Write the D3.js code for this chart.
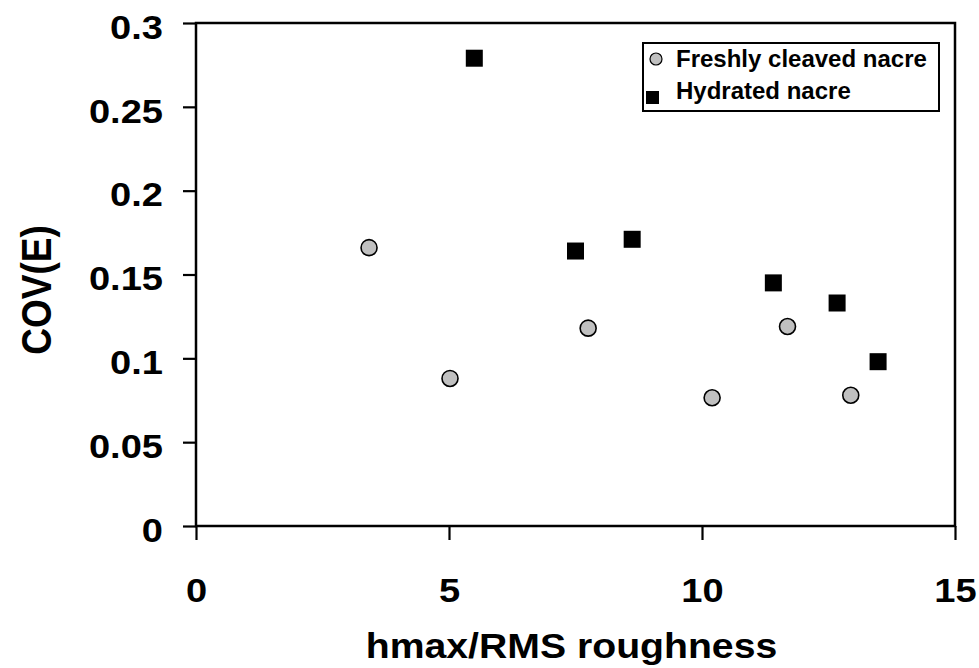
<!DOCTYPE html>
<html>
<head>
<meta charset="utf-8">
<script src="https://cdn.jsdelivr.net/npm/d3@7"></script>
<style>
  body { margin: 0; background: #fff; }
  svg { display: block; }
  text { font-family: "Liberation Sans", Arial, sans-serif; font-weight: bold; fill: #000; }
</style>
</head>
<body>
<svg></svg>
<script>
// data
let freshX = [3.42, 5.02, 7.75, 10.2, 11.69, 12.94];
let freshY = [0.166, 0.088, 0.118, 0.0765, 0.119, 0.078];
let hydX = [5.5, 7.5, 8.62, 11.41, 12.67, 13.48];
let hydY = [0.279, 0.164, 0.171, 0.145, 0.133, 0.098];

let xTicks = [0, 5, 10, 15];
let yTicks = [0, 0.05, 0.1, 0.15, 0.2, 0.25, 0.3];
let yTickLabels = ["0", "0.05", "0.1", "0.15", "0.2", "0.25", "0.3"];
let seriesNames = ["Freshly cleaved nacre", "Hydrated nacre"];

let svg = d3.select("svg").attr("width", 979).attr("height", 668);

let x = d3.scaleLinear().domain([0, 15]).range([196, 955]);
let y = d3.scaleLinear().domain([0, 0.3]).range([526, 23]);

// y axis
let yAxis = svg.append("g")
    .attr("transform", `translate(${x(0)},0)`)
    .call(d3.axisLeft(y).tickValues(yTicks).tickSize(13).tickSizeOuter(0)
        .tickFormat((d, i) => yTickLabels[i]));
yAxis.select(".domain").remove();
yAxis.selectAll("line").attr("stroke", "#000").attr("stroke-width", 2.2);
yAxis.selectAll("text")
    .attr("x", 0).attr("dy", "0.36em")
    .attr("transform", "translate(-33,3) scale(1.12,1)")
    .style("font-size", "34px");

// x axis
let xAxis = svg.append("g")
    .attr("transform", `translate(0,${y(0)})`)
    .call(d3.axisBottom(x).tickValues(xTicks).tickSize(14).tickSizeOuter(0));
xAxis.select(".domain").remove();
xAxis.selectAll("line").attr("stroke", "#000").attr("stroke-width", 2.2);
xAxis.selectAll("text")
    .attr("y", 0).attr("dy", 0)
    .attr("transform", "translate(0,76) scale(1.12,1)")
    .style("font-size", "34px");

// frame
svg.append("rect")
    .attr("x", x(0)).attr("y", y(0.3))
    .attr("width", x(15) - x(0)).attr("height", y(0) - y(0.3))
    .attr("fill", "none").attr("stroke", "#000").attr("stroke-width", 2.5);

// axis titles
svg.append("text")
    .attr("transform", `translate(${(x(0) + x(15)) / 2 - 4},658) scale(1.12,1)`)
    .attr("text-anchor", "middle")
    .style("font-size", "35px")
    .text("hmax/RMS roughness");

svg.append("text")
    .attr("transform", "translate(51,290) rotate(-90) scale(1,1.15)")
    .attr("text-anchor", "middle")
    .style("font-size", "37px")
    .text("COV(E)");

// points
let fresh = freshX.map((d, i) => ({ x: d, y: freshY[i] }));
let hyd = hydX.map((d, i) => ({ x: d, y: hydY[i] }));

svg.append("g").selectAll("rect")
    .data(hyd).enter().append("rect")
    .attr("x", (d) => x(d.x) - 8.5)
    .attr("y", (d) => y(d.y) - 8.5)
    .attr("width", 17).attr("height", 17)
    .attr("fill", "#000");

svg.append("g").selectAll("circle")
    .data(fresh).enter().append("circle")
    .attr("cx", (d) => x(d.x))
    .attr("cy", (d) => y(d.y))
    .attr("r", 8)
    .attr("fill", "#c0c0c0")
    .attr("stroke", "#000").attr("stroke-width", 1.6);

// legend
let legend = svg.append("g");
legend.append("rect")
    .attr("x", 643).attr("y", 43).attr("width", 296).attr("height", 68)
    .attr("fill", "#fff").attr("stroke", "#000").attr("stroke-width", 2);
legend.append("circle")
    .attr("cx", 656).attr("cy", 59).attr("r", 6)
    .attr("fill", "#c0c0c0").attr("stroke", "#000").attr("stroke-width", 1.2);
legend.append("rect")
    .attr("x", 646).attr("y", 91).attr("width", 13).attr("height", 13)
    .attr("fill", "#000");
legend.selectAll("text.lab")
    .data(seriesNames).enter().append("text")
    .attr("class", "lab")
    .attr("x", 676)
    .attr("y", (d, i) => 67 + i * 32)
    .style("font-size", "24px")
    .text((d) => d);
</script>
</body>
</html>
